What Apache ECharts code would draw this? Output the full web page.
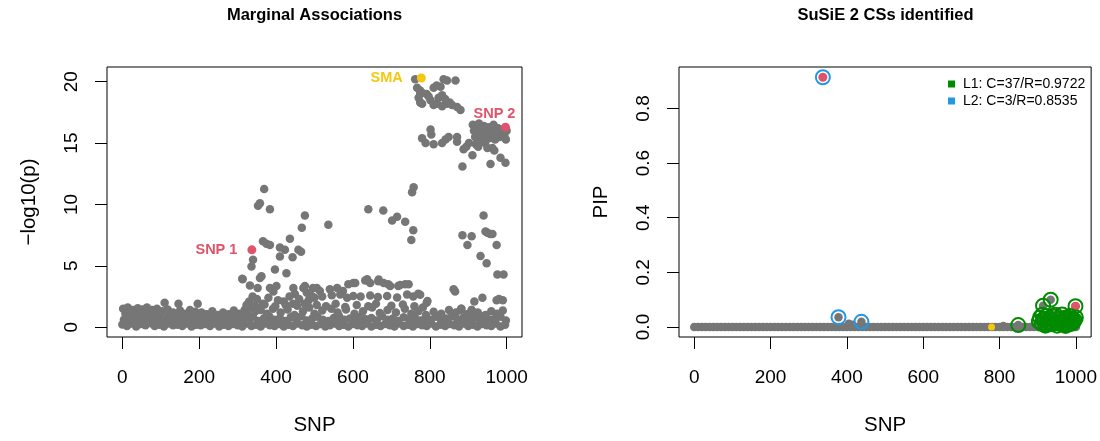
<!DOCTYPE html>
<html>
<head>
<meta charset="utf-8">
<script src="https://cdn.jsdelivr.net/npm/echarts@6/dist/echarts.min.js"></script>
<style>html,body{margin:0;padding:0;background:#fff;}#chart{width:1100px;height:441px;}</style>
</head>
<body>
<div id="chart"></div>
<script>
// ---------- tick labels ----------
const xTicks = [0, 200, 400, 600, 800, 1000];
const margYTicks = [0, 5, 10, 15, 20];
const pipYTicks = [0, 0.2, 0.4, 0.6, 0.8];

// ---------- Marginal associations: [SNP, -log10(p)] ----------
const margFloor = [[0,0.22],[12,0.1],[24,0.3],[36,0.05],[48,0.25],[60,0.15],[72,0.35],[84,0.1],[96,0.2],[108,0.05],[120,0.3],[132,0.15],[144,0.2],[156,0.1],[168,0.3],[180,0.05],[192,0.2],[204,0.15],[216,0.25],[228,0.1],[240,0.3],[252,0.05],[264,0.2],[276,0.1],[288,0.25],[300,0.15],[312,0.05],[324,0.3],[336,0.1],[348,0.2],[360,0.05],[372,0.3],[384,0.15],[396,0.1],[408,0.25],[420,0.05],[432,0.2],[444,0.1],[456,0.3],[468,0.15],[480,0.05],[492,0.2],[504,0.1],[516,0.25],[528,0.05],[540,0.15],[552,0.3],[564,0.1],[576,0.2],[588,0.05],[600,0.25],[612,0.15],[624,0.1],[636,0.3],[648,0.05],[660,0.2],[672,0.1],[684,0.25],[696,0.15],[708,0.05],[720,0.3],[732,0.1],[744,0.2],[756,0.05],[768,0.25],[780,0.15],[792,0.1],[804,0.3],[816,0.05],[828,0.2],[840,0.1],[852,0.25],[864,0.15],[876,0.05],[888,0.3],[900,0.1],[912,0.2],[924,0.05],[936,0.25],[948,0.15],[960,0.1],[972,0.3],[984,0.05],[996,0.2]];
const margRow2 = [[4,0.6],[18,0.8],[32,0.5],[46,0.9],[60,0.7],[74,0.55],[88,0.85],[102,0.6],[116,0.75],[130,0.5],[144,0.9],[158,0.65],[172,0.8],[186,0.55],[200,0.7],[214,0.9],[228,0.6],[242,0.5],[256,0.8],[270,0.65],[284,0.9],[298,0.55],[312,0.75],[326,0.6],[340,0.85],[354,0.5],[368,0.7],[382,0.9],[396,0.6],[410,0.75],[424,0.5],[438,0.8],[452,0.65],[466,0.9],[480,0.55],[494,0.7],[508,0.85],[522,0.6],[536,0.5],[550,0.75],[564,0.9],[578,0.6],[592,0.7],[606,0.5],[620,0.85],[634,0.65],[648,0.75],[662,0.55],[676,0.9],[690,0.6],[704,0.7],[718,0.5],[732,0.8],[746,0.65],[760,0.9],[774,0.55],[788,0.75],[802,0.6],[816,0.85],[830,0.5],[844,0.7],[858,0.9],[872,0.6],[886,0.75],[900,0.55],[914,0.8],[928,0.65],[942,0.9],[956,0.6],[970,0.7],[984,0.85],[998,0.55]];
const margRow2b = [[8,0.4],[22,0.5],[36,0.35],[50,0.45],[64,0.4],[78,0.3],[92,0.5],[106,0.35],[120,0.45],[134,0.4],[148,0.5],[162,0.35],[176,0.45],[190,0.3],[204,0.5],[218,0.4],[232,0.35],[246,0.45],[260,0.4],[274,0.3],[288,0.5],[302,0.35],[316,0.45],[330,0.4],[380,0.45],[430,0.35],[490,0.45],[560,0.4],[620,0.35],[700,0.45],[760,0.4],[830,0.35],[890,0.45],[950,0.4]];
const margRow3 = [[2,1.5],[14,1.6],[26,1.4],[40,1.55],[52,1.45],[64,1.6],[78,1.4],[90,1.5],[104,1.3],[110,2.0],[118,1.45],[132,1.2],[146,1.9],[150,1.35],[162,1.1],[176,1.4],[190,1.25],[196,1.9],[206,1.2],[220,1.05],[234,1.3],[248,1.0],[262,1.2],[276,1.05],[290,1.35],[304,1.1],[318,1.4],[332,1.6],[346,1.3],[360,1.4],[376,1.1],[392,1.5],[412,1.2],[430,1.45],[448,1.0],[470,1.3],[486,1.6],[500,1.1],[520,1.35],[544,1.5],[560,1.2],[582,1.45],[604,1.1],[626,1.3],[650,1.6],[670,1.15],[690,1.4],[712,1.2],[735,1.5],[752,1.1],[770,1.3],[790,1.0],[810,1.25],[830,1.1],[850,1.4],[868,1.2],[882,1.5],[896,1.05],[909,1.4],[925,1.2],[945,1.0],[960,1.3],[975,1.1],[990,1.35]];
const margRow3b = [[8,1.1],[20,1.2],[33,1.0],[46,1.15],[58,1.25],[70,1.05],[84,1.2],[97,1.0],[124,1.1],[138,0.95],[156,1.05],[170,0.95],[183,1.1],[200,0.95],[213,1.05],[227,0.9],[241,1.0],[255,0.9],[269,1.0],[283,0.95],[297,1.05],[311,0.9],[325,1.1]];
const margMid = [[313,3.9],[332,3.4],[339,2.5],[352,3.2],[362,4.15],[384,3.2],[393,2.9],[401,3.35],[405,2.2],[444,1.9],[445,3.2],[449,2.7],[471,3.2],[475,3.35],[480,2.8],[493,2.55],[496,3.2],[506,3.2],[514,2.95],[540,3.1],[559,3.2],[574,2.95],[588,3.5],[601,3.6],[606,3.6],[632,3.8],[637,3.9],[645,3.6],[666,3.75],[667,3.88],[680,3.6],[692,3.5],[697,3.35],[718,3.35],[723,3.43],[736,3.5],[745,3.5],
  [330,2.1],[350,2.3],[365,1.9],[380,2.4],[420,2.1],[435,2.5],[460,2.3],[485,2.2],[500,2.4],[520,2.5],[545,2.6],[567,2.67],[585,2.4],[601,2.54],[620,2.5],[645,2.59],[665,2.45],[689,2.54],[715,2.41],[741,2.67],[757,2.5],[770,2.73],[794,2.14],
  [323,1.8],[345,1.75],[370,1.85],[398,1.7],[425,1.8],[455,1.75],[475,1.9],[506,1.8],[530,1.7],[555,1.9],[580,1.65],[610,1.8],[640,1.7],[660,1.9],[700,1.75],[730,1.85],[760,1.7],[782,1.6],
  [862,3.1],[866,2.9],[880,1.4],[882,1.5],[909,1.4],[916,2.1],[937,2.4],[974,2.2],[980,2.3],[990,2.2],[775,2.65],[792,2.0]];
const margHigh = [[369,11.25],[353,9.9],[358,10.1],[384,9.6],[475,9.1],[467,8.1],[366,7.0],[375,6.8],[384,6.7],[436,7.2],[410,6.5],[423,6.3],[443,5.7],[458,6.3],[465,6.15],[410,5.75],[340,5.5],[336,4.95],[397,4.7],[427,4.4],[312,3.95],[358,4.0],
  [758,11.4],[754,11.0],[640,9.6],[679,9.5],[702,8.7],[715,9.0],[736,8.6],[757,7.9],[752,7.1],[536,8.35],
  [940,9.1],[945,7.8],[950,7.7],[957,7.6],[963,7.6],[885,7.5],[909,7.4],[898,6.7],[974,6.7],[932,5.8],[948,5.2],[976,4.3],[992,4.3]];
const margTopCluster = [[762,20.2],[767,19.5],[774,19.3],[775,19.0],[771,18.7],[780,19.1],[775,18.3],[780,18.2],[792,19.0],[810,19.5],[818,19.7],[828,19.6],[836,20.2],[845,20.1],[867,20.1],[802,18.5],[810,18.1],[823,18.7],[832,18.9],[845,18.2],[858,18.1],[871,17.95],[880,17.7],[819,18.2],[832,18.0],[840,18.6],[852,18.3],[797,18.8]];
const margSnp2Cluster = [[802,16.1],[780,15.4],[789,15.0],[810,14.9],[832,15.0],[841,15.3],[849,15.5],[871,15.5],[871,15.1],[804,15.7],
  [912,16.5],[915,16.0],[918,15.5],[922,16.2],[925,15.8],[928,16.6],[932,15.2],[935,16.0],[938,15.6],[941,16.4],[944,15.0],[948,15.9],[952,16.3],[955,15.4],[958,16.0],[962,15.7],[966,16.5],[970,15.3],[974,15.9],[978,16.2],[982,15.5],[986,15.8],[990,16.1],[994,15.6],[1000,16.0],[998,15.3],[920,14.9],[926,14.7],[950,14.6],
  [885,13.1],[888,14.5],[895,14.7],[902,15.0],[911,14.0],[958,13.3],[963,14.6],[968,14.4],[984,13.8],[997,13.4]];
const snp1 = [[337, 6.3]];
const snp2 = [[997, 16.3]];
const sma = [[778, 20.3]];

// ---------- SuSiE PIP: [SNP, PIP] ----------
const pipZeroSnps = [0,10,20,30,40,50,60,70,80,90,100,110,120,130,140,150,160,170,180,190,200,210,220,230,240,250,260,270,280,290,300,310,320,330,340,350,360,370,380,390,400,410,420,430,440,450,460,470,480,490,500,510,520,530,540,550,560,570,580,590,600,610,620,630,640,650,660,670,680,690,700,710,720,730,740,750,760,770,780,790,800,810,820,830,840,850,860,870,880,890,900,910,920,930,940,950,960,970,980,990,1000];
const pipLowGray = [[378,0.036],[438,0.019],[405,0.012],[415,0.008],[810,0.004]];
const csL1 = [[849,0.007],[903,0.02],[906,0.035],[910,0.012],[914,0.078],[916,0.028],[920,0.005],[923,0.04],[927,0.018],[931,0.03],[934,0.10],[937,0.01],[940,0.025],[944,0.038],[948,0.015],[951,0.005],[955,0.03],[958,0.02],[962,0.01],[964,0.046],[968,0.028],[971,0.015],[975,0.035],[978,0.008],[982,0.022],[985,0.04],[988,0.012],[991,0.03],[994,0.018],[997,0.025],[999,0.076],[1000,0.035],[912,0.045],[925,0.008],[946,0.045],[973,0.004],[980,0.032]];
const csL2 = [[337,0.914],[378,0.036],[438,0.019]];
const pipRed = [[337,0.914],[999,0.076]];
const pipSma = [[779,0]];

const L1NAME = 'L1: C=37/R=0.9722';
const L2NAME = 'L2: C=3/R=0.8535';

// ---------- styles ----------
const FONT = 'Liberation Sans, Arial, Helvetica, sans-serif';
const GRAY = '#767676', RED = '#DF536B', GOLD = '#F5C710', GREEN = '#008B00', BLUE = '#2297E6';

function xAxisCfg(gi) {
  return {
    gridIndex: gi, type: 'value', min: -40, max: 1040,
    name: 'SNP', nameLocation: 'middle', nameGap: 78,
    nameTextStyle: { fontFamily: FONT, fontSize: 20.5, color: '#000' },
    axisLine: { show: false, onZero: false }, splitLine: { show: false },
    axisTick: { show: true, inside: false, customValues: xTicks, length: 12, lineStyle: { color: '#000', width: 1 } },
    axisLabel: { customValues: xTicks, margin: 31, fontFamily: FONT, fontSize: 19, color: '#000', formatter: v => String(v) }
  };
}
function yAxisCfg(gi, min, max, ticks, name, fmt) {
  return {
    gridIndex: gi, type: 'value', min: min, max: max,
    name: name, nameLocation: 'middle', nameGap: 67, nameRotate: 90,
    nameTextStyle: { fontFamily: FONT, fontSize: 20.5, color: '#000' },
    axisLine: { show: false, onZero: false }, splitLine: { show: false },
    axisTick: { show: true, inside: false, customValues: ticks, length: 12, lineStyle: { color: '#000', width: 1 } },
    axisLabel: { customValues: ticks, rotate: 90, margin: 26, fontFamily: FONT, fontSize: 19, color: '#000', formatter: fmt }
  };
}
function pts(name, data, xi, color, size, extra) {
  return Object.assign({
    name: name, type: 'scatter', xAxisIndex: xi, yAxisIndex: xi, data: data,
    symbol: 'circle', symbolSize: size, silent: true,
    itemStyle: { color: color, opacity: 1 },
    emphasis: { disabled: true }
  }, extra || {});
}
function ring(name, data, color) {
  return {
    name: name, type: 'scatter', xAxisIndex: 1, yAxisIndex: 1, data: data,
    symbol: 'circle', symbolSize: 14, silent: true,
    itemStyle: { color: 'rgba(0,0,0,0)', borderColor: color, borderWidth: 2, opacity: 1 },
    emphasis: { disabled: true }
  };
}
function lab(text, color, pos, offset) {
  return { label: { show: true, formatter: text, position: pos, distance: 5, offset: offset,
    color: color, fontFamily: FONT, fontWeight: 'bold', fontSize: 14.5 } };
}

const margGray = [].concat(margFloor, margRow2, margRow2b, margRow3, margRow3b, margMid, margHigh, margTopCluster, margSnp2Cluster);
const pipGray = [].concat(pipZeroSnps.map(s => [s, 0]), pipLowGray, csL1);

const chart = echarts.init(document.getElementById('chart'), null, { renderer: 'canvas' });
chart.setOption({
  animation: false,
  backgroundColor: '#fff',
  title: [
    { text: 'Marginal Associations', left: 314.5, top: 7, textAlign: 'center', padding: 0,
      textStyle: { fontFamily: FONT, fontWeight: 'bold', fontSize: 16.5, color: '#000' } },
    { text: 'SuSiE 2 CSs identified', left: 885.5, top: 7, textAlign: 'center', padding: 0,
      textStyle: { fontFamily: FONT, fontWeight: 'bold', fontSize: 16.5, color: '#000' } }
  ],
  legend: {
    left: 948, top: 77, orient: 'vertical', itemWidth: 7, itemHeight: 7, itemGap: 3, padding: 0,
    selectedMode: false,
    textStyle: { fontFamily: FONT, fontSize: 14, color: '#000', padding: [0, 0, 0, 3] },
    data: [
      { name: L1NAME, icon: 'rect', itemStyle: { color: GREEN, borderWidth: 0 } },
      { name: L2NAME, icon: 'rect', itemStyle: { color: BLUE, borderWidth: 0 } }
    ]
  },
  grid: [
    { left: 107, top: 67, width: 415, height: 274, show: true, borderColor: '#000', borderWidth: 1, backgroundColor: 'transparent' },
    { left: 679, top: 67, width: 413, height: 274, show: true, borderColor: '#000', borderWidth: 1, backgroundColor: 'transparent' }
  ],
  xAxis: [xAxisCfg(0), xAxisCfg(1)],
  yAxis: [
    yAxisCfg(0, -0.8, 21.2, margYTicks, '\u2212log10(p)', v => String(v)),
    yAxisCfg(1, -0.0366, 0.9516, pipYTicks, 'PIP', v => v.toFixed(1))
  ],
  series: [
    pts('marg', margGray, 0, GRAY, 8.5),
    pts('snp1', snp1, 0, RED, 9, lab('SNP 1', RED, 'left', [-5, 0])),
    pts('snp2', snp2, 0, RED, 9, lab('SNP 2', RED, 'top', [-11, 4])),
    pts('sma', sma, 0, GOLD, 9, lab('SMA', GOLD, 'left', [-9, 0])),
    pts('pip', pipGray, 1, GRAY, 8.5),
    pts('pipRed', pipRed, 1, RED, 9),
    pts('pipSma', pipSma, 1, GOLD, 7),
    ring(L1NAME, csL1, GREEN),
    ring(L2NAME, csL2, BLUE)
  ]
});
</script>
</body>
</html>
